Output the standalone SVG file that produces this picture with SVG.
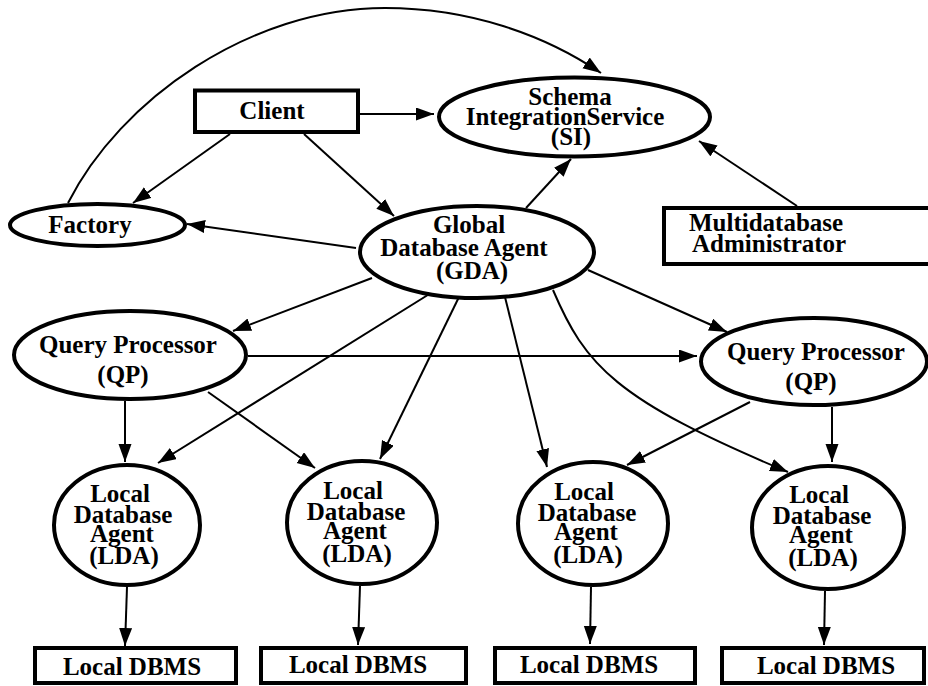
<svg xmlns="http://www.w3.org/2000/svg" width="928" height="686" viewBox="0 0 928 686">
<style>
.n{fill:#fff;stroke:#000;stroke-width:4}
.t{font-family:'Liberation Serif',serif;font-weight:700;font-size:25px;fill:#000;text-anchor:middle}
.s{text-anchor:start}
.c{fill:none;stroke:#000;stroke-width:2;marker-end:url(#a)}
</style>
<defs>
<marker id="a" markerUnits="userSpaceOnUse" markerWidth="20" markerHeight="14" refX="18" refY="6.5" orient="auto">
<path d="M0,0 L18,6.5 L0,13 z" fill="#000"/>
</marker>
</defs>
<rect width="928" height="686" fill="#fff"/>
<g id="connectors">
<path class="c" d="M68,203 C120,100 250,8 385,8 C470,8 545,35 601,73"/>
<path class="c" d="M360,114 L434,114"/>
<path class="c" d="M230,134 L133,203"/>
<path class="c" d="M304,134 L394,216"/>
<path class="c" d="M356,248 L187,224"/>
<path class="c" d="M526,208 L571,159"/>
<path class="c" d="M797,206 L699,141"/>
<path class="c" d="M372,278 L233,331"/>
<path class="c" d="M588,270 L727,332"/>
<path class="c" d="M248,356 L697,356"/>
<path class="c" d="M125,401 L125,462"/>
<path class="c" d="M208,392 L315,468"/>
<path class="c" d="M431,293 L158,463"/>
<path class="c" d="M459,297 L380,459"/>
<path class="c" d="M505,297 L547,467"/>
<path class="c" d="M553,290 C585,365 615,400 788,472"/>
<path class="c" d="M750,402 L627,465"/>
<path class="c" d="M832,407 L832,462"/>
<path class="c" d="M127,587 L125,646"/>
<path class="c" d="M360,586 L358,645"/>
<path class="c" d="M591,587 L590,644"/>
<path class="c" d="M825,591 L824,645"/>
</g>
<g font-family="Liberation Serif, serif" font-weight="bold">
<g id="client">
<rect class="n" x="195" y="90.5" width="163" height="41.5"/>
<text class="t" x="272" y="119">Client</text>
</g>
<g id="si">
<ellipse class="n" cx="574.5" cy="117" rx="135.5" ry="39.5"/>
<text class="t" x="570" y="105">Schema</text>
<text class="t" x="565" y="125">IntegrationService</text>
<text class="t" x="571" y="145">(SI)</text>
</g>
<g id="factory">
<ellipse class="n" cx="97.5" cy="225" rx="87.5" ry="21"/>
<text class="t" x="90" y="233">Factory</text>
</g>
<g id="gda">
<ellipse class="n" cx="477" cy="252" rx="117" ry="46"/>
<text class="t" x="469" y="233">Global</text>
<text class="t" x="464" y="256">Database Agent</text>
<text class="t" x="472" y="279">(GDA)</text>
</g>
<g id="mda">
<rect class="n" x="664" y="208" width="280" height="56"/>
<text class="t s" x="689" y="231">Multidatabase</text>
<text class="t s" x="692" y="252">Administrator</text>
</g>
<g id="qp1">
<ellipse class="n" cx="130" cy="355" rx="116" ry="44"/>
<text class="t" x="128" y="353">Query Processor</text>
<text class="t" x="123" y="383">(QP)</text>
</g>
<g id="qp2">
<ellipse class="n" cx="814" cy="361.5" rx="113" ry="43.5"/>
<text class="t" x="816" y="360">Query Processor</text>
<text class="t" x="811" y="390">(QP)</text>
</g>
<g id="lda1">
<ellipse class="n" cx="127" cy="525" rx="73" ry="60"/>
<text class="t" x="120" y="502">Local</text>
<text class="t" x="123" y="523">Database</text>
<text class="t" x="122" y="542">Agent</text>
<text class="t" x="124" y="564">(LDA)</text>
</g>
<g id="lda2">
<ellipse class="n" cx="362" cy="522.5" rx="75" ry="61.5"/>
<text class="t" x="353" y="499">Local</text>
<text class="t" x="356" y="520">Database</text>
<text class="t" x="355" y="539">Agent</text>
<text class="t" x="357" y="562">(LDA)</text>
</g>
<g id="lda3">
<ellipse class="n" cx="593" cy="523.5" rx="75" ry="61.5"/>
<text class="t" x="584" y="500">Local</text>
<text class="t" x="587" y="521">Database</text>
<text class="t" x="586" y="540">Agent</text>
<text class="t" x="588" y="563">(LDA)</text>
</g>
<g id="lda4">
<ellipse class="n" cx="828" cy="527.5" rx="76" ry="61.5"/>
<text class="t" x="819" y="503">Local</text>
<text class="t" x="822" y="524">Database</text>
<text class="t" x="821" y="543">Agent</text>
<text class="t" x="823" y="566">(LDA)</text>
</g>
<g id="dbms1">
<rect class="n" x="35" y="648" width="201" height="35"/>
<text class="t" x="132" y="675">Local DBMS</text>
</g>
<g id="dbms2">
<rect class="n" x="261" y="648" width="205" height="35"/>
<text class="t" x="358" y="673">Local DBMS</text>
</g>
<g id="dbms3">
<rect class="n" x="495" y="648" width="200" height="35"/>
<text class="t" x="589" y="673">Local DBMS</text>
</g>
<g id="dbms4">
<rect class="n" x="722" y="648" width="202" height="35"/>
<text class="t" x="826" y="674">Local DBMS</text>
</g>
</g>
</svg>
